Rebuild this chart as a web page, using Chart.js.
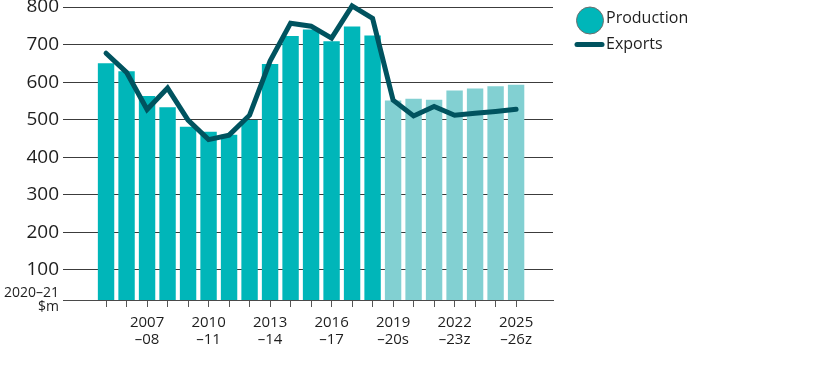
<!DOCTYPE html>
<html>
<head>
<meta charset="utf-8">
<script src="https://cdn.jsdelivr.net/npm/chart.js@4/dist/chart.umd.min.js"></script>
<style>
  html, body { margin: 0; padding: 0; background: #ffffff; }
  #wrap { width: 816px; height: 366px; position: relative; }
</style>
</head>
<body>
<div id="wrap"><canvas id="c" width="816" height="366"></canvas></div>
<script>
// ---- Data ----
const categories = ['2005–06','2006–07','2007–08','2008–09','2009–10','2010–11','2011–12','2012–13','2013–14','2014–15','2015–16','2016–17','2017–18','2018–19','2019–20','2020–21','2021–22','2022–23','2023–24','2024–25','2025–26'];
const production = [650, 629, 563, 533, 481, 468, 460, 499, 648, 723, 740, 709, 748, 724, 551, 556, 553, 578, 583, 589, 593];
const exportsVals = [677, 626, 527, 584, 499, 447, 459, 512, 656, 757, 749, 717, 803, 770, 552, 510, 535, 512, 517, 522, 528];
const forecastFrom = 14; // from 2019–20 onwards bars are lighter
const tickLabels = ['', '', ['2007','–08'], '', '', ['2010','–11'], '', '', ['2013','–14'], '', '', ['2016','–17'], '', '', ['2019','–20s'], '', '', ['2022','–23z'], '', '', ['2025','–26z']];
const yTicks = [20, 100, 200, 300, 400, 500, 600, 700, 800];
const yUnitLabel = ['2020–21', '$m'];

const colHist = '#00b6b9';
const colFore = '#82d0d2';
const colLine = '#00535f';

const legendPlugin = {
  id: 'customLegend',
  afterDraw(chart) {
    const ctx = chart.ctx;
    const ds = chart.data.datasets;
    ctx.save();
    ctx.beginPath();
    ctx.arc(590, 20.5, 13.5, 0, Math.PI * 2);
    ctx.fillStyle = colHist;
    ctx.fill();
    ctx.lineWidth = 1;
    ctx.strokeStyle = '#6d6d6d';
    ctx.stroke();
    ctx.beginPath();
    ctx.moveTo(577, 44.5);
    ctx.lineTo(602, 44.5);
    ctx.lineWidth = 5;
    ctx.lineCap = 'round';
    ctx.strokeStyle = colLine;
    ctx.stroke();
    ctx.font = '16px "Open Sans"';
    ctx.fillStyle = '#1e1e1e';
    ctx.textBaseline = 'middle';
    ctx.textAlign = 'left';
    ctx.fillText(ds[1].label, 606, 18);
    ctx.fillText(ds[0].label, 606, 44);
    ctx.restore();
  }
};

new Chart(document.getElementById('c'), {
  type: 'bar',
  data: {
    datasets: [
      {
        type: 'line',
        label: 'Exports',
        data: exportsVals.map((v, i) => ({ x: i, y: v })),
        borderColor: colLine,
        backgroundColor: colLine,
        borderWidth: 5,
        pointRadius: 0,
        borderCapStyle: 'round',
        borderJoinStyle: 'miter',
        tension: 0,
        clip: false,
        order: 0
      },
      {
        type: 'bar',
        label: 'Production',
        data: production.map((v, i) => ({ x: i, y: v })),
        backgroundColor: production.map((v, i) => i >= forecastFrom ? colFore : colHist),
        borderWidth: 0,
        categoryPercentage: 1,
        barPercentage: 0.8,
        order: 1
      }
    ]
  },
  options: {
    responsive: false,
    animation: false,
    devicePixelRatio: 1,
    layout: { padding: { top: 7, right: 263, bottom: 0, left: 0 } },
    plugins: { legend: { display: false }, tooltip: { enabled: false } },
    scales: {
      x: {
        type: 'linear',
        offset: false,
        min: -2.1,
        max: 21.8,
        afterBuildTicks: (s) => { s.ticks = categories.map((c, i) => ({ value: i })); },
        afterFit: (s) => { s.height = 66; s.paddingLeft = 0; s.paddingRight = 0; },
        grid: { offset: false, drawOnChartArea: false, drawTicks: true, tickLength: 7, color: '#555555', lineWidth: 1 },
        border: { display: true, color: '#4a4a4a', width: 1 },
        ticks: {
          autoSkip: false,
          maxRotation: 0,
          padding: 7,
          color: '#1e1e1e',
          font: { family: '"Open Sans"', size: 15, lineHeight: 1.15 },
          callback: (v) => tickLabels[v] ?? ''
        }
      },
      y: {
        min: 20,
        max: 800,
        afterBuildTicks: (s) => { s.ticks = yTicks.map(v => ({ value: v })); },
        afterFit: (s) => { s.width = 63; s.paddingTop = 0; s.paddingBottom = 0; },
        grid: { drawTicks: false, color: '#3c3c3c', lineWidth: 1 },
        border: { display: false },
        ticks: {
          padding: 4,
          color: '#1e1e1e',
          font: (ctx) => (ctx.tick && ctx.tick.value === 20)
            ? { family: '"Open Sans"', size: 14, lineHeight: 1.0 }
            : { family: '"Open Sans"', size: 19 },
          callback: (v) => v === 20 ? yUnitLabel : String(v)
        }
      }
    }
  },
  plugins: [legendPlugin]
});
</script>
</body>
</html>
